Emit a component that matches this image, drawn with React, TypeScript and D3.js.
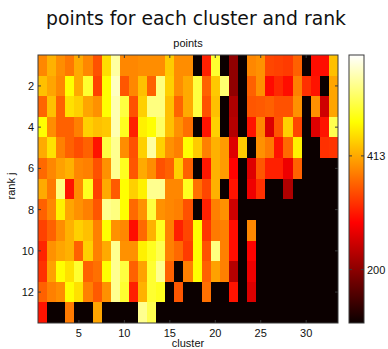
import React from 'react';
import * as d3 from 'd3';

// cluster / rank indices
const clusters = [1, 2, 3, 4, 5, 6, 7, 8, 9, 10, 11, 12, 13, 14, 15, 16, 17, 18, 19, 20, 21, 22, 23, 24, 25, 26, 27, 28, 29, 30, 31, 32, 33];
const ranks = [1, 2, 3, 4, 5, 6, 7, 8, 9, 10, 11, 12, 13];

// points per cluster, one array per rank j
const rank1 = [388, 419, 392, 376, 414, 388, 348, 452, 555, 388, 388, 392, 392, 392, 438, 392, 392, 100, 312, 500, 100, 203, 100, 388, 395, 340, 336, 332, 360, 100, 298, 298, 430];
const rank2 = [430, 410, 388, 477, 414, 500, 336, 477, 571, 352, 388, 430, 360, 539, 442, 392, 414, 508, 360, 436, 531, 203, 100, 360, 395, 296, 318, 298, 383, 324, 302, 100, 410];
const rank3 = [363, 430, 360, 454, 442, 410, 395, 477, 563, 508, 348, 442, 539, 539, 430, 362, 414, 508, 348, 430, 100, 226, 100, 352, 355, 360, 348, 348, 395, 100, 395, 251, 410];
const rank4 = [477, 392, 360, 360, 383, 442, 430, 436, 563, 492, 312, 466, 477, 524, 430, 395, 371, 100, 302, 442, 100, 231, 100, 302, 388, 261, 352, 442, 340, 100, 263, 302, 516];
const rank5 = [414, 454, 383, 360, 345, 360, 302, 508, 547, 392, 348, 442, 555, 442, 395, 383, 477, 438, 383, 419, 403, 263, 438, 100, 395, 378, 302, 366, 466, 100, 100, 324, 327];
const rank6 = [366, 388, 407, 419, 388, 383, 348, 395, 547, 492, 352, 414, 392, 348, 360, 442, 360, 100, 305, 419, 403, 290, 100, 263, 352, 312, 312, 276, 360, 100, 100, 100, 100];
const rank7 = [414, 378, 539, 302, 392, 492, 336, 414, 355, 477, 442, 466, 547, 547, 388, 388, 492, 371, 340, 419, 100, 302, 100, 276, 324, 100, 100, 226, 100, 100, 100, 100, 100];
const rank8 = [360, 388, 466, 410, 395, 383, 352, 547, 539, 477, 366, 395, 508, 395, 388, 383, 348, 100, 312, 383, 395, 251, 100, 100, 100, 100, 100, 100, 100, 100, 100, 100, 100];
const rank9 = [336, 360, 392, 419, 442, 430, 383, 477, 395, 388, 298, 366, 419, 492, 383, 312, 340, 477, 327, 378, 383, 298, 100, 388, 100, 100, 100, 100, 100, 100, 100, 100, 100];
const rank10 = [315, 395, 410, 419, 360, 442, 383, 414, 547, 395, 395, 466, 492, 516, 383, 366, 332, 477, 348, 539, 383, 298, 100, 290, 100, 100, 100, 100, 100, 100, 100, 100, 100];
const rank11 = [324, 407, 477, 454, 500, 360, 371, 477, 547, 508, 360, 407, 500, 547, 360, 100, 383, 477, 360, 407, 383, 231, 100, 276, 100, 100, 100, 100, 100, 100, 100, 100, 100];
const rank12 = [360, 383, 392, 477, 454, 383, 355, 395, 547, 500, 312, 419, 500, 492, 100, 352, 100, 100, 371, 100, 100, 302, 100, 261, 100, 100, 100, 100, 100, 100, 100, 100, 100];
const rank13 = [302, 100, 100, 378, 100, 100, 410, 100, 100, 100, 100, 547, 516, 100, 100, 100, 100, 100, 100, 100, 100, 100, 100, 100, 100, 100, 100, 100, 100, 100, 100, 100, 100];

const pointRows = [rank1, rank2, rank3, rank4, rank5, rank6, rank7, rank8, rank9, rank10, rank11, rank12, rank13];

const xTicks = [5, 10, 15, 20, 25, 30];
const yTicks = [2, 4, 6, 8, 10, 12];
const colorTicks = [200, 413];
const colorDomain = [100, 602];

// matlab "hot"
const hot = (t: number) => {
  const c = (v: number) => Math.max(0, Math.min(1, v));
  const r = c(0.0417 + t / 0.375 * (1 - 0.0417));
  const g = c((t - 0.375) / 0.375);
  const b = c((t - 0.75) / 0.25);
  return d3.rgb(r * 255, g * 255, b * 255).formatHex();
};

const W = 388, H = 349;
const left = 38, right = 338, top = 55, bottom = 323;
const cbLeft = 349, cbRight = 364;
const font = 'Liberation Sans, Arial, sans-serif';
const axisColor = '#3a3a3a';

export default function App() {
  const x = d3.scaleLinear().domain([0.5, clusters.length + 0.5]).range([left, right]);
  const y = d3.scaleLinear().domain([0.5, ranks.length + 0.5]).range([top, bottom]);
  const c = d3.scaleLinear().domain(colorDomain).range([0, 1]).clamp(true);
  const cy = d3.scaleLinear().domain(colorDomain).range([bottom, top]);

  const cells = [];
  pointRows.forEach((row, i) => {
    row.forEach((v, j) => {
      const x0 = x(clusters[j] - 0.5), x1 = x(clusters[j] + 0.5);
      const y0 = y(ranks[i] - 0.5), y1 = y(ranks[i] + 0.5);
      cells.push(
        <rect key={i + '-' + j} x={x0} y={y0} width={x1 - x0 + 0.4} height={y1 - y0 + 0.4}
          fill={hot(c(v))} shapeRendering="crispEdges" />
      );
    });
  });

  const stops = d3.range(0, 1.0001, 1 / 32);

  return (
    <svg width={W} height={H} style={{ position: 'absolute', left: 0, top: 0, background: '#fff' }}>
      <defs>
        <linearGradient id="hotbar" x1="0" y1="1" x2="0" y2="0">
          {stops.map(s => <stop key={s} offset={s} stopColor={hot(s)} />)}
        </linearGradient>
      </defs>
      <text x={196} y={25} textAnchor="middle" fontFamily="DejaVu Sans, sans-serif" fontSize={18.8} fill="#111">
        points for each cluster and rank
      </text>
      <text x={188} y={47} textAnchor="middle" fontFamily={font} fontSize={11} fill="#111">points</text>

      {cells}

      <rect x={left} y={top} width={right - left} height={bottom - top} fill="none" stroke={axisColor} strokeWidth={1} />
      {xTicks.map(t => (
        <g key={'x' + t}>
          <line x1={x(t)} x2={x(t)} y1={bottom} y2={bottom - 3} stroke={axisColor} />
          <line x1={x(t)} x2={x(t)} y1={top} y2={top + 3} stroke={axisColor} />
          <text x={x(t)} y={337} textAnchor="middle" fontFamily={font} fontSize={11} fill="#111">{t}</text>
        </g>
      ))}
      {yTicks.map(t => (
        <g key={'y' + t}>
          <line x1={left} x2={left + 3} y1={y(t)} y2={y(t)} stroke={axisColor} />
          <line x1={right} x2={right - 3} y1={y(t)} y2={y(t)} stroke={axisColor} />
          <text x={34} y={y(t) + 4} textAnchor="end" fontFamily={font} fontSize={11} fill="#111">{t}</text>
        </g>
      ))}
      <text x={188} y={347} textAnchor="middle" fontFamily={font} fontSize={11} fill="#111">cluster</text>
      <text transform={`translate(15,186) rotate(-90)`} textAnchor="middle" fontFamily={font} fontSize={11} fill="#111">rank j</text>

      <rect x={cbLeft} y={top} width={cbRight - cbLeft} height={bottom - top} fill="url(#hotbar)" stroke={axisColor} strokeWidth={1} />
      {colorTicks.map(t => (
        <g key={'c' + t}>
          <line x1={cbLeft} x2={cbLeft + 3} y1={cy(t)} y2={cy(t)} stroke={axisColor} />
          <line x1={cbRight} x2={cbRight - 3} y1={cy(t)} y2={cy(t)} stroke={axisColor} />
          <text x={367} y={cy(t) + 4} fontFamily={font} fontSize={11} fill="#111">{t}</text>
        </g>
      ))}
    </svg>
  );
}
